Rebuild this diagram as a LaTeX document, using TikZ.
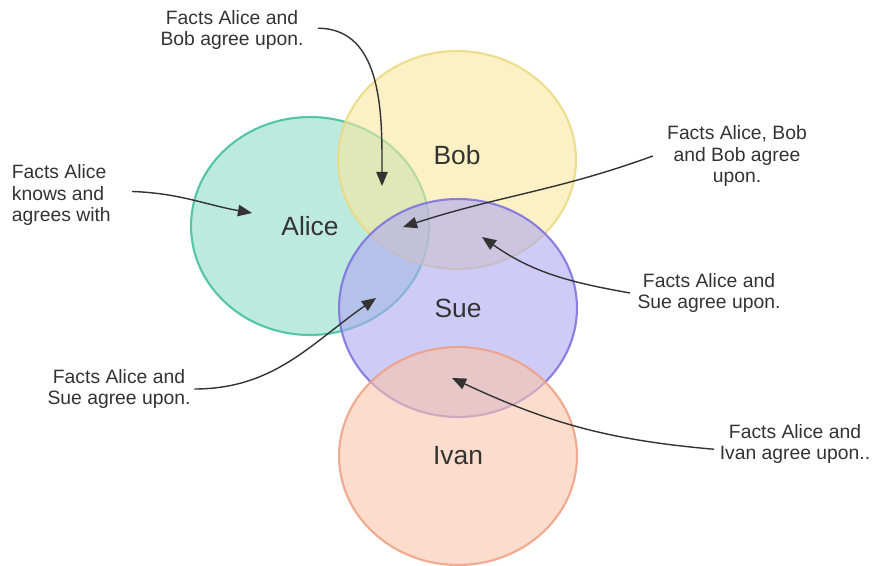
\documentclass[tikz,border=0pt]{standalone}
\usepackage{fontspec}
\setmainfont{Liberation Sans}
\usetikzlibrary{shapes.geometric,arrows.meta}

\definecolor{alicefill}{HTML}{91DCCA}
\definecolor{alicedraw}{HTML}{3DBE98}
\definecolor{bobfill}{HTML}{F8E89D}
\definecolor{bobdraw}{HTML}{EBD97E}
\definecolor{suefill}{HTML}{AFA8F2}
\definecolor{suedraw}{HTML}{7A6EDE}
\definecolor{ivanfill}{HTML}{FAC5AA}
\definecolor{ivandraw}{HTML}{EE9F82}
\definecolor{inktext}{HTML}{333333}

\begin{document}
\begin{tikzpicture}[x=0.02cm, y=-0.02cm,
    venn/.style={ellipse, minimum width=4.76cm, minimum height=4.36cm, line width=1.2pt,
        fill opacity=0.6, draw opacity=0.85, text opacity=1, text=inktext,
        font=\fontsize{15}{18}\selectfont},
    note/.style={align=center, text=inktext, inner sep=2pt,
        font=\fontsize{11}{12.5}\selectfont},
    pointer/.style={draw=black!80, line width=0.8pt, -{Triangle[length=8pt,width=6.5pt]}}]
    \useasboundingbox (0,0) rectangle (881,565);

    % The four sets
    \node[venn, draw=alicedraw, fill=alicefill] (alice) at (310,226) {Alice};
    \node[venn, draw=bobdraw, fill=bobfill] (bob) at (457,160) {};
    \node[inktext, font=\fontsize{15}{18}\selectfont] (bobname) at (457,155) {Bob};
    \node[venn, draw=suedraw, fill=suefill] (sue) at (458,308) {Sue};
    \node[venn, draw=ivandraw, fill=ivanfill] (ivan) at (458,456) {Ivan};

    % Notes
    \node[note] (ab) at (232,30) {Facts Alice and\\Bob agree upon.};
    \node[note, align=left, anchor=west] (knows) at (8,195) {Facts Alice\\knows and\\agrees with};
    \node[note] (abs) at (737,156) {Facts Alice, Bob\\and Bob agree\\upon.};
    \node[note] (asr) at (709,293) {Facts Alice and\\Sue agree upon.};
    \node[note] (asl) at (119,389) {Facts Alice and\\Sue agree upon.};
    \node[note] (ai) at (795,444) {Facts Alice and\\Ivan agree upon..};

    % Arrow tips
    \coordinate (abtip) at (382,186);
    \coordinate (knowstip) at (252,213);
    \coordinate (abstip) at (403,227);
    \coordinate (asrtip) at (482,237);
    \coordinate (asltip) at (376,298);
    \coordinate (aitip) at (452,378);

    % Arrows
    \draw[pointer] ([xshift=6pt,yshift=1pt]ab.east) to[out=0, in=90] (abtip);
    \draw[pointer] ([xshift=10pt,yshift=2pt]knows.east) to[out=-2, in=170] (knowstip);
    \draw[pointer] ([xshift=-6pt]abs.west) to[out=200, in=18] (abstip);
    \draw[pointer] ([xshift=-2pt]asr.west) to[out=170, in=-35] (asrtip);
    \draw[pointer] (asl.east) to[out=0, in=215] (asltip);
    \draw[pointer] ([xshift=-1pt,yshift=-3pt]ai.west) to[out=175, in=-25] (aitip);
\end{tikzpicture}
\end{document}
